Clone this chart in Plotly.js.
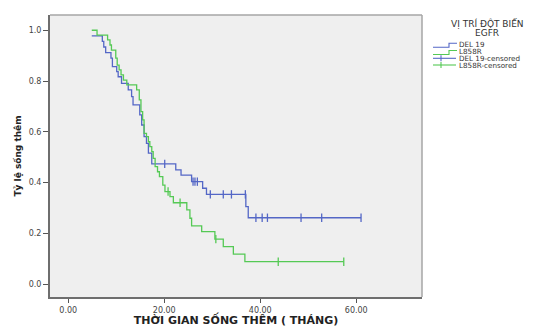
<!DOCTYPE html>
<html>
<head>
<meta charset="utf-8">
<script src="https://cdn.plot.ly/plotly-3.0.1.min.js"></script>
<style>html,body{margin:0;padding:0;background:#fff;}#chart{width:534px;height:327px;}</style>
</head>
<body>
<div id="chart"></div>
<script>
// DEL 19 group: event times (months) and survival after each event
const delTimes = [4.9, 7.1, 7.4, 7.8, 8.9, 9.2, 10.1, 10.4, 11.1, 12.5, 13.2, 13.5, 14.9, 15.3, 15.8, 16.3, 16.7, 17.4, 22.4, 23.5, 25.7, 28.0, 28.8, 37.0, 37.5];
const delSurv  = [0.978, 0.956, 0.934, 0.912, 0.890, 0.857, 0.837, 0.817, 0.791, 0.765, 0.739, 0.706, 0.667, 0.627, 0.581, 0.555, 0.516, 0.474, 0.450, 0.430, 0.404, 0.378, 0.354, 0.306, 0.262];
const delCensor = [20.1, 26.0, 26.4, 26.9, 29.6, 32.3, 34.0, 36.9, 39.1, 40.4, 41.5, 48.5, 52.8, 61.0];

// L858R group
const lsrTimes = [4.9, 6.0, 8.2, 8.7, 9.0, 9.9, 10.2, 10.6, 11.0, 11.5, 12.2, 14.25, 14.8, 15.15, 15.5, 15.8, 16.3, 16.7, 17.0, 17.4, 17.7, 18.1, 18.6, 19.0, 19.7, 20.15, 21.2, 21.9, 24.7, 25.35, 25.7, 27.8, 30.55, 32.3, 34.4, 36.8];
const lsrSurv  = [1.0, 0.981, 0.962, 0.942, 0.922, 0.890, 0.863, 0.844, 0.824, 0.804, 0.785, 0.765, 0.726, 0.680, 0.647, 0.594, 0.581, 0.561, 0.542, 0.522, 0.496, 0.463, 0.443, 0.424, 0.390, 0.365, 0.345, 0.321, 0.293, 0.260, 0.230, 0.207, 0.178, 0.148, 0.119, 0.089];
const lsrCensor = [20.8, 23.3, 30.75, 43.75, 57.4];

const groupNames = ["DEL 19", "L858R"];
const legendTitle = ["VỊ TRÍ ĐỘT BIẾN", "EGFR"];
const xTitle = "THỜI GIAN SỐNG THÊM ( THÁNG)";
const yTitle = "Tỷ lệ sống thêm";

const BLUE = "#5467c6", GREEN = "#55c955";
const FONT = "'DejaVu Sans', 'Liberation Sans', Arial, sans-serif";

function survAt(times, surv, t) {
  let s = 1;
  for (let i = 0; i < times.length; i++) if (times[i] <= t) s = surv[i];
  return s;
}
function curve(times, surv, censor, color, name) {
  const last = censor[censor.length - 1];
  const xs = times.slice(), ys = surv.slice();
  if (last > xs[xs.length - 1]) { xs.push(last); ys.push(ys[ys.length - 1]); }
  return [
    {x: xs, y: ys, type: "scatter", mode: "lines", line: {shape: "hv", color: color, width: 1.3}, name: name, showlegend: false},
    {x: censor, y: censor.map(t => survAt(times, surv, t)), type: "scatter", mode: "markers",
     marker: {symbol: "line-ns-open", size: 6, color: color, line: {color: color, width: 1.3}}, name: name + "-censored", showlegend: false}
  ];
}

const data = [].concat(
  curve(delTimes, delSurv, delCensor, BLUE, groupNames[0]),
  curve(lsrTimes, lsrSurv, lsrCensor, GREEN, groupNames[1])
);

// pixel -> paper helpers for legend decorations
const L = 50, R = 422, T = 15, B = 297;
const px = x => (x - L) / (R - L);
const py = y => (B - y) / (B - T);

const shapes = [
  {type: "line", xref: "paper", yref: "paper", x0: 0, x1: 1, y0: 1, y1: 1, line: {color: "#a6a6a6", width: 1.5}},
  {type: "line", xref: "paper", yref: "paper", x0: 1, x1: 1, y0: 0, y1: 1, line: {color: "#a6a6a6", width: 1.5}},
  {type: "path", xref: "paper", yref: "paper", line: {color: BLUE, width: 1.1},
   path: `M${px(433)},${py(47.3)} L${px(449)},${py(47.3)} L${px(449)},${py(43.3)} L${px(457)},${py(43.3)}`},
  {type: "path", xref: "paper", yref: "paper", line: {color: GREEN, width: 1.1},
   path: `M${px(433)},${py(54.5)} L${px(449)},${py(54.5)} L${px(449)},${py(50.5)} L${px(457)},${py(50.5)}`},
  {type: "line", xref: "paper", yref: "paper", x0: px(433), x1: px(456), y0: py(58.3), y1: py(58.3), line: {color: BLUE, width: 1.1}},
  {type: "line", xref: "paper", yref: "paper", x0: px(441), x1: px(441), y0: py(55.3), y1: py(61.3), line: {color: BLUE, width: 1.1}},
  {type: "line", xref: "paper", yref: "paper", x0: px(433), x1: px(456), y0: py(65), y1: py(65), line: {color: GREEN, width: 1.1}},
  {type: "line", xref: "paper", yref: "paper", x0: px(441), x1: px(441), y0: py(62), y1: py(68), line: {color: GREEN, width: 1.1}}
];

const ann = (text, x, y, size, anchor) => ({text: text, xref: "paper", yref: "paper", x: px(x), y: py(y),
  xanchor: anchor, yanchor: "middle", showarrow: false, borderpad: 0,
  font: {family: FONT, size: size, color: "#333"}});
const annotations = [
  ann(legendTitle[0], 487, 24, 9, "center"),
  ann(legendTitle[1], 487, 32.5, 9, "center"),
  ann(groupNames[0], 458, 44.8, 7.2, "left"),
  ann(groupNames[1], 458, 51.8, 7.2, "left"),
  ann(groupNames[0] + "-censored", 458, 58.5, 7.2, "left"),
  ann(groupNames[1] + "-censored", 458, 65.2, 7.2, "left")
];

const layout = {
  width: 534, height: 327,
  margin: {l: L, r: 534 - R, t: T, b: 327 - B, pad: 0},
  paper_bgcolor: "#ffffff", plot_bgcolor: "#efefef",
  showlegend: false, hovermode: false,
  font: {family: FONT, color: "#333"},
  xaxis: {range: [-3.8, 73.7], tickvals: [0, 20, 40, 60], tickformat: ".2f",
    showgrid: false, zeroline: false, showline: true, linecolor: "#6e6e6e", linewidth: 2,
    ticks: "outside", ticklen: 4, tickcolor: "#555", tickwidth: 1,
    tickfont: {family: FONT, size: 8, color: "#444"},
    title: {text: xTitle, font: {family: FONT, size: 11, color: "#222", weight: "bold"}, standoff: 8}},
  yaxis: {range: [-0.05, 1.06], tickvals: [0, 0.2, 0.4, 0.6, 0.8, 1.0], tickformat: ".1f",
    showgrid: false, zeroline: false, showline: true, linecolor: "#6e6e6e", linewidth: 2,
    ticks: "outside", ticklen: 5, tickcolor: "#555", tickwidth: 1,
    tickfont: {family: FONT, size: 8, color: "#444"},
    title: {text: yTitle, font: {family: FONT, size: 9, color: "#222", weight: "bold"}, standoff: 6}},
  shapes: shapes,
  annotations: annotations
};

Plotly.newPlot("chart", data, layout, {displayModeBar: false, staticPlot: true});
</script>
</body>
</html>
